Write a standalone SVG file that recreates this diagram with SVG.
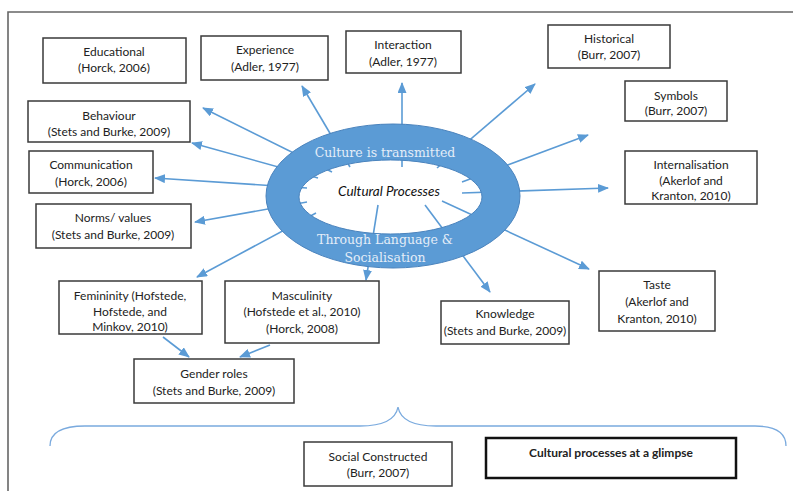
<svg xmlns="http://www.w3.org/2000/svg" width="793" height="491" viewBox="0 0 793 491">
<defs>
<marker id="ah" markerUnits="userSpaceOnUse" markerWidth="11" markerHeight="9" refX="10" refY="4.5" orient="auto">
<path d="M0,0 L11,4.5 L0,9 z" fill="#5b9bd5"/>
</marker>
<style>
.box{fill:#fff;stroke:#3a3a3a;stroke-width:1.5}
.t{font-family:Lato,"Open Sans","Liberation Sans",sans-serif;font-size:12px;fill:#222;text-anchor:middle}
.c{stroke:#5b9bd5;stroke-width:1.6;fill:none;marker-end:url(#ah)}
.ser{font-family:"DejaVu Serif","Liberation Serif",serif;font-size:12.5px;fill:#e4edf8;text-anchor:middle}
</style>
</defs>
<rect width="793" height="491" fill="#fff"/>
<path d="M8,491 L8,12 L793,12" fill="none" stroke="#666" stroke-width="1.6"/>

<g id="connectors">
<line class="c" x1="332" y1="172" x2="203" y2="108"/>
<line class="c" x1="350" y1="167" x2="302" y2="86"/>
<line class="c" x1="402" y1="167" x2="402" y2="83"/>
<line class="c" x1="437" y1="168" x2="535" y2="84"/>
<line class="c" x1="462" y1="182" x2="588" y2="135"/>
<line class="c" x1="462" y1="193" x2="608" y2="188"/>
<line class="c" x1="442" y1="201" x2="589" y2="269"/>
<line class="c" x1="425" y1="205" x2="490" y2="292"/>
<line class="c" x1="378" y1="205" x2="366" y2="280"/>
<line class="c" x1="316" y1="213" x2="197" y2="277"/>
<line class="c" x1="307" y1="202" x2="195" y2="222"/>
<line class="c" x1="307" y1="188" x2="155" y2="178"/>
<line class="c" x1="318" y1="178" x2="192" y2="143"/>
<line class="c" x1="163" y1="337" x2="189" y2="357"/>
<line class="c" x1="270" y1="345" x2="240" y2="357"/>
</g>

<g id="ring">
<path fill-rule="evenodd" fill="#5b9bd5" stroke="#4a83bd" stroke-width="1" d="M266,196 A127,72 0 1,0 520,196 A127,72 0 1,0 266,196 Z M299,197 A91.5,37 0 1,0 482,197 A91.5,37 0 1,0 299,197 Z"/>
<text class="ser" x="385" y="157">Culture is transmitted</text>
<text x="389" y="196" font-family="Lato,'Open Sans',sans-serif" font-style="italic" font-size="13.5" fill="#111" text-anchor="middle">Cultural Processes</text>
<text class="ser" x="385" y="244">Through Language &amp;</text>
<text class="ser" x="385" y="262">Socialisation</text>
</g>

<g id="educational"><rect class="box" x="43" y="38" width="143" height="45"/><text class="t" x="114" y="56">Educational</text><text class="t" x="114" y="72">(Horck, 2006)</text></g>
<g id="experience"><rect class="box" x="201" y="36" width="127" height="44"/><text class="t" x="265" y="54">Experience</text><text class="t" x="265" y="71">(Adler, 1977)</text></g>
<g id="interaction"><rect class="box" x="346" y="31" width="115" height="42"/><text class="t" x="403" y="49">Interaction</text><text class="t" x="403" y="66">(Adler, 1977)</text></g>
<g id="historical"><rect class="box" x="548" y="25" width="122" height="43"/><text class="t" x="609" y="43">Historical</text><text class="t" x="609" y="59">(Burr, 2007)</text></g>
<g id="symbols"><rect class="box" x="625" y="81" width="102" height="40"/><text class="t" x="676" y="100">Symbols</text><text class="t" x="676" y="115">(Burr, 2007)</text></g>
<g id="internalisation"><rect class="box" x="625" y="151" width="132" height="53"/><text class="t" x="691" y="169">Internalisation</text><text class="t" x="691" y="185">(Akerlof and</text><text class="t" x="691" y="200">Kranton, 2010)</text></g>
<g id="behaviour"><rect class="box" x="28" y="101" width="162" height="41"/><text class="t" x="109" y="120">Behaviour</text><text class="t" x="109" y="136">(Stets and Burke, 2009)</text></g>
<g id="communication"><rect class="box" x="29" y="151" width="124" height="42"/><text class="t" x="91" y="169">Communication</text><text class="t" x="91" y="186">(Horck, 2006)</text></g>
<g id="norms"><rect class="box" x="36" y="204" width="155" height="44"/><text class="t" x="113" y="222">Norms/ values</text><text class="t" x="113" y="239">(Stets and Burke, 2009)</text></g>
<g id="femininity"><rect class="box" x="59" y="281" width="143" height="53"/><text class="t" x="130" y="300">Femininity (Hofstede,</text><text class="t" x="130" y="316">Hofstede, and</text><text class="t" x="130" y="331">Minkov, 2010)</text></g>
<g id="masculinity"><rect class="box" x="225" y="281" width="154" height="62"/><text class="t" x="302" y="300">Masculinity</text><text class="t" x="302" y="316">(Hofstede et al., 2010)</text><text class="t" x="302" y="333">(Horck, 2008)</text></g>
<g id="gender"><rect class="box" x="134" y="359" width="160" height="44"/><text class="t" x="214" y="378">Gender roles</text><text class="t" x="214" y="395">(Stets and Burke, 2009)</text></g>
<g id="knowledge"><rect class="box" x="441" y="301" width="128" height="43"/><text class="t" x="505" y="318">Knowledge</text><text class="t" x="505" y="335">(Stets and Burke, 2009)</text></g>
<g id="taste"><rect class="box" x="599" y="271" width="116" height="60"/><text class="t" x="657" y="289">Taste</text><text class="t" x="657" y="306">(Akerlof and</text><text class="t" x="657" y="323">Kranton, 2010)</text></g>

<path id="brace" d="M50,446 C50,432 62,426 85,426 L360,426 C385,426 396,418 398,407 C400,418 411,426 436,426 L755,426 C775,426 786,432 786,446" fill="none" stroke="#7aaade" stroke-width="1.3"/>

<g id="social"><rect class="box" x="304" y="442" width="148" height="44"/><text class="t" x="378" y="461">Social Constructed</text><text class="t" x="378" y="477">(Burr, 2007)</text></g>
<g id="glimpse"><rect x="486" y="438" width="250" height="40" fill="#fff" stroke="#111" stroke-width="2.5"/><text class="t" x="611" y="457" font-weight="bold" fill="#000">Cultural processes at a glimpse</text></g>
</svg>
